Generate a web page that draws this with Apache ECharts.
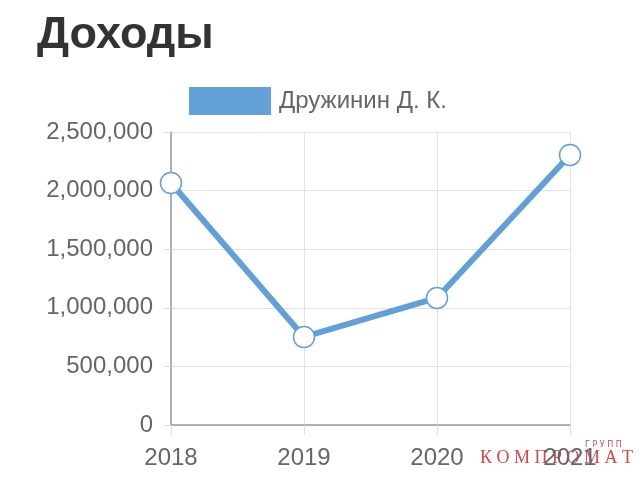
<!DOCTYPE html>
<html lang="ru">
<head>
    <meta charset="UTF-8">
    <title>Доходы</title>
    <style>
        html, body { margin: 0; padding: 0; background: #fff; }
    </style>
</head>
<body>
<div id="main" style="width: 640px;height:484px;"></div>
<script type="text/javascript" src="https://cdn.jsdelivr.net/npm/echarts@6/dist/echarts.min.js"></script>
<script type="text/javascript">
    // данные графика
    var years = ['2018', '2019', '2020', '2021'];
    var incomes = [2065000, 751000, 1084000, 2304000];
    var seriesName = 'Дружинин Д. К.';

    var myChart = echarts.init(document.getElementById('main'));
    var font = 'Liberation Sans, Arial, Helvetica, sans-serif';
    var blue = '#62a0d8';

    var option = {
        animation: false,
        title: {
            text: 'Доходы',
            left: 37,
            top: 13,
            padding: 0,
            textStyle: { fontFamily: font, fontSize: 45, fontWeight: 'bold', color: '#333' }
        },
        legend: {
            data: [seriesName],
            top: 87,
            left: 189,
            padding: 0,
            icon: 'rect',
            itemWidth: 82,
            itemHeight: 28,
            itemGap: 10,
            itemStyle: { color: blue, borderWidth: 0 },
            textStyle: { fontFamily: font, fontSize: 24, color: '#666', padding: [3, 0, 0, 3] }
        },
        grid: { left: 171, right: 70, top: 132, bottom: 59 },
        xAxis: {
            type: 'category',
            data: years,
            boundaryGap: false,
            axisLine: { lineStyle: { color: '#999', width: 1.5 } },
            axisTick: { show: true, length: 10, lineStyle: { color: '#ddd' } },
            axisLabel: { fontFamily: font, fontSize: 24, color: '#666', margin: 21 },
            splitLine: { show: true, lineStyle: { color: '#e2e2e2' } }
        },
        yAxis: {
            type: 'value',
            min: 0,
            max: 2500000,
            interval: 500000,
            axisLine: { show: true, lineStyle: { color: '#999', width: 1.5 } },
            axisTick: { show: true, length: 8, lineStyle: { color: '#ddd' } },
            axisLabel: {
                fontFamily: font, fontSize: 24, color: '#666', margin: 18,
                formatter: function (v) { return v.toLocaleString('en-US'); }
            },
            splitLine: { show: true, lineStyle: { color: '#e2e2e2' } }
        },
        graphic: [
            {
                type: 'text', left: 480, top: 449,
                style: { text: 'К О М П Р О М А Т', fill: 'rgba(200,40,40,0.85)', font: '18px "Liberation Serif", serif' }
            },
            {
                type: 'text', left: 585, top: 441,
                style: { text: 'Г Р У П П', fill: 'rgba(200,40,40,0.85)', font: '8px "DejaVu Sans", sans-serif' }
            }
        ],
        series: [{
            name: seriesName,
            type: 'line',
            data: incomes,
            symbol: 'circle',
            symbolSize: 21,
            itemStyle: { color: '#fff', borderColor: blue, borderWidth: 1.5 },
            lineStyle: { color: blue, width: 6 },
            color: blue
        }]
    };
    myChart.setOption(option);
</script>
</body>
</html>
